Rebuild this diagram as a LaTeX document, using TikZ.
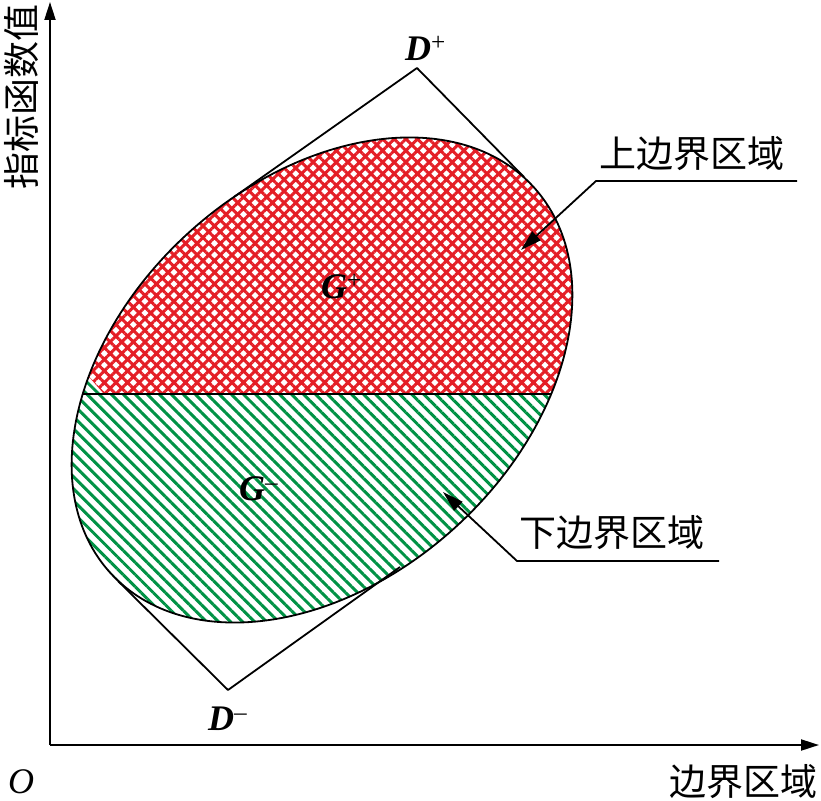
\documentclass[tikz,border=0pt]{standalone}
\usepackage{fontspec}
\setmainfont{Liberation Serif}
\newfontfamily\cjk{Noto Sans CJK SC}
\usetikzlibrary{arrows.meta,patterns.meta}
\definecolor{hred}{RGB}{228,30,38}
\definecolor{hgreen}{RGB}{0,146,69}
\begin{document}
\begin{tikzpicture}[x=1pt,y=-1pt,line join=round,
  axisline/.style={line width=2pt,-{Triangle[length=18pt,width=11pt]}},
  thin/.style={line width=1.8pt},
  leader/.style={line width=1.8pt,-{Triangle[length=21pt,width=12pt]}},
  cjklab/.style={font=\cjk\fontsize{37}{40}\selectfont,inner sep=0pt},
  mathlab/.style={font=\fontsize{36}{40}\selectfont,inner sep=0pt,anchor=base west},
  ell/.style={rotate around={42.4:(322,380)}}]
\useasboundingbox (0,0) rectangle (821,800);
% axes
\coordinate (O) at (50,745);
\coordinate (ytip) at (50,2);
\coordinate (xtip) at (819,745);
\draw[axisline] (O) -- (ytip);
\draw[axisline] (O) -- (xtip);
% hatched regions
\begin{scope}
  \clip[ell] (322,380) ellipse [x radius=286.4, y radius=198.7];
  \fill[pattern={Hatch[angle=45,distance=8.2pt,line width=3pt]},pattern color=hred]
    (0,0) -- (821,0) -- (821,394) -- (104,394) -- (90,378) -- (0,378) -- cycle;
  \fill[pattern={Lines[angle=-45,distance=8.5pt,line width=3pt]},pattern color=hgreen]
    (0,800) -- (821,800) -- (821,394) -- (104,394) -- (90,378) -- (0,378) -- cycle;
  \draw[thin] (0,394) -- (821,394);
\end{scope}
\draw[thin,ell] (322,380) ellipse [x radius=286.4, y radius=198.7];
% tangent lines
\coordinate (Dpapex) at (417,68);
\coordinate (TpL) at (234,197);
\coordinate (TpR) at (524,177);
\coordinate (Dmapex) at (228,690);
\coordinate (TmL) at (118,581);
\coordinate (TmR) at (400,567);
\draw[thin] (TpL) -- (Dpapex) -- (TpR);
\draw[thin] (TmL) -- (Dmapex) -- (TmR);
% labels
\node[mathlab] (Dp) at (405,60) {\textbf{\textit{D}}\textsuperscript{+}};
\node[mathlab] (Dm) at (208,730) {\textbf{\textit{D}}\textsuperscript{--}};
\node[mathlab] (Gp) at (321,298) {\textbf{\textit{G}}\textsuperscript{+}};
\node[mathlab] (Gm) at (239,500) {\textbf{\textit{G}}\textsuperscript{--}};
\node[mathlab] (Olab) at (8,793) {\textit{O}};
\node[cjklab,anchor=base] (xlab) at (743,795) {边界区域};
\node[cjklab,anchor=base,rotate=90] (ylab) at (35,97) {指标函数值};
\node[cjklab,anchor=base] (up) at (692,167) {上边界区域};
\node[cjklab,anchor=base] (low) at (612,546) {下边界区域};
% leaders
\coordinate (upA) at (797,181);
\coordinate (upB) at (596,181);
\coordinate (upT) at (521,250);
\draw[leader] (upA) -- (upB) -- (upT);
\coordinate (lowA) at (719,561);
\coordinate (lowB) at (517,561);
\coordinate (lowT) at (443,492);
\draw[leader] (lowA) -- (lowB) -- (lowT);
\end{tikzpicture}
\end{document}
